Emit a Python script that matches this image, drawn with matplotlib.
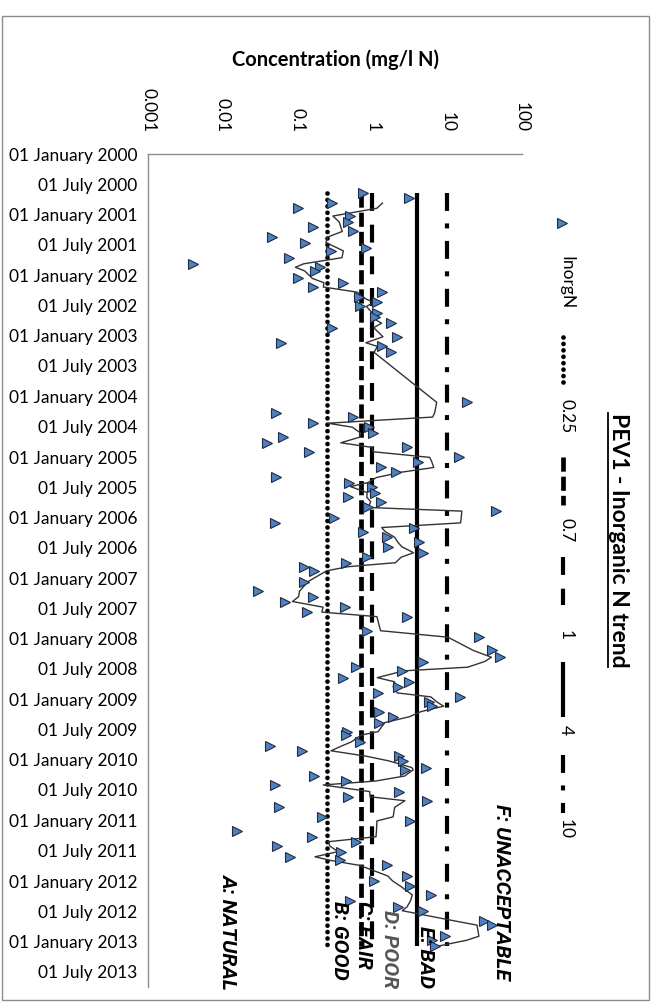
import matplotlib
matplotlib.use('Agg')
import matplotlib.pyplot as plt
import matplotlib.dates as mdates
from matplotlib.ticker import FixedLocator, FixedFormatter, NullLocator
from matplotlib.lines import Line2D
from matplotlib.patches import Rectangle
from matplotlib.transforms import IdentityTransform
import pandas as pd

plt.rcParams['font.family'] = ['Lato', 'DejaVu Sans']

# ---------------- data ----------------
sample_dates = [
    '2000-08-24', '2000-09-24', '2000-10-23', '2000-11-23', '2001-01-09', '2001-02-13',
    '2001-03-19', '2001-04-12', '2001-05-16', '2001-06-18', '2001-07-18', '2001-08-07',
    '2001-09-17', '2001-10-24', '2001-11-14', '2001-12-06', '2002-01-20', '2002-02-15',
    '2002-03-13', '2002-04-13', '2002-05-12', '2002-06-14', '2002-07-08', '2002-08-14',
    '2002-09-11', '2002-10-17', '2002-11-13', '2003-01-07', '2003-02-12', '2003-03-06',
    '2003-04-11', '2004-02-06', '2004-04-08', '2004-05-05', '2004-06-11', '2004-07-05',
    '2004-08-10', '2004-09-04', '2004-10-07', '2004-11-04', '2004-11-30', '2005-01-03',
    '2005-01-30', '2005-03-05', '2005-04-02', '2005-05-04', '2005-06-04', '2005-06-28',
    '2005-08-03', '2005-09-01', '2005-09-27', '2005-11-01', '2005-11-23', '2006-01-06',
    '2006-02-02', '2006-03-02', '2006-03-26', '2006-04-29', '2006-05-29', '2006-06-25',
    '2006-08-01', '2006-08-28', '2006-09-30', '2006-10-24', '2006-11-18', '2007-01-23',
    '2007-03-22', '2007-04-22', '2007-05-22', '2007-06-25', '2007-07-25', '2007-08-21',
    '2007-11-14', '2007-12-23', '2008-03-12', '2008-04-22', '2008-05-18', '2008-06-21',
    '2008-07-13', '2008-08-23', '2008-09-17', '2008-10-17', '2008-11-23', '2008-12-17',
    '2009-01-16', '2009-02-11', '2009-03-16', '2009-04-15', '2009-05-21', '2009-07-14',
    '2009-08-04', '2009-09-14', '2009-10-09', '2009-11-07', '2009-12-09', '2010-01-07',
    '2010-02-16', '2010-03-02', '2010-04-08', '2010-05-08', '2010-06-01', '2010-07-11',
    '2010-08-11', '2010-09-04', '2010-10-14', '2010-12-10', '2011-01-04', '2011-03-03',
    '2011-04-09', '2011-05-09', '2011-06-04', '2011-07-08', '2011-08-08', '2011-08-30',
    '2011-09-29', '2011-12-02', '2011-12-30', '2012-02-01', '2012-03-25', '2012-04-29',
    '2012-06-04', '2012-06-28', '2012-08-29', '2012-09-23', '2012-11-29', '2012-12-23',
    '2013-01-28',
]
inorg_n = [
    0.74, 3.06, 0.286, 0.102, 0.50, 0.477,
    0.162, 0.546, 0.0451, 0.126, 0.82, 0.280,
    0.0774, 0.00397, 0.199, 0.171, 0.102, 0.401,
    0.159, 1.33, 0.668, 1.14, 0.683, 1.14,
    1.08, 1.76, 0.286, 2.11, 0.0594, 1.33,
    1.77, 18.6, 0.0514, 0.546, 0.162, 0.910,
    1.03, 0.0644, 0.0386, 2.88, 0.143, 14.5,
    4.03, 1.30, 2.07, 0.0514, 0.491, 0.979,
    1.08, 0.468, 1.30, 0.865, 44.9, 0.307,
    0.0499, 3.63, 0.756, 1.55, 4.24, 1.60,
    4.80, 0.855, 0.444, 0.122, 0.166, 0.122,
    0.0293, 0.159, 0.0679, 0.430, 0.135, 2.88,
    0.839, 26.9, 39.3, 50.8, 4.80, 0.604,
    2.47, 0.408, 3.09, 2.18, 1.18, 14.8,
    5.77, 6.32, 1.24, 1.90, 1.24, 0.453,
    0.437, 0.683, 0.0428, 0.113, 2.29, 2.59,
    5.21, 2.73, 0.166, 0.444, 0.0499, 2.27,
    0.468, 5.42, 0.0569, 0.210, 3.18, 0.0156,
    0.154, 0.604, 0.0526, 0.380, 0.0791, 0.369,
    1.59, 2.88, 1.06, 3.18, 6.02, 0.50,
    2.22, 4.80, 31.0, 39.3, 9.35, 6.21,
    6.9,
]
series_label = 'InorgN'
threshold_values = [0.25, 0.7, 1, 4, 10]
threshold_labels = ['0.25', '0.7', '1', '4', '10']
class_labels = ['A: NATURAL', 'B: GOOD', 'C: FAIR', 'D: POOR', 'E: BAD', 'F: UNACCEPTABLE']
conc_ticks = [0.001, 0.01, 0.1, 1, 10, 100]
conc_tick_labels = ['0.001', '0.01', '0.1', '1', '10', '100']
date_axis_start = '2000-01-01'
date_axis_end = '2013-10-01'
title_text = 'PEV1 - Inorganic N trend'
axis_title = 'Concentration (mg/l N)'
moving_avg_period = 3   # Excel "3 per. Mov. Avg." trendline

# ---------------- styles ----------------
thr_styles = [
    dict(lw=3.4, ls=(0, (0.01, 1.35)), dash_capstyle='round'),
    dict(lw=3.4, ls=(0, (3.0, 1.06)), dash_capstyle='butt'),
    dict(lw=3.0, ls=(0, (4.3, 3.3)), dash_capstyle='butt'),
    dict(lw=3.0, ls='-', solid_capstyle='butt'),
    dict(lw=3.0, ls=(0, (4.3, 3.0, 1.2, 3.0)), dash_capstyle='butt'),
]
marker_kw = dict(marker='>', ms=7.6, mfc='#4F81BD', mec='#1F2A44', mew=0.8, ls='none')
font_main = 12.5

W, H = 652, 1002
def fx(px):
    return px / W
def fy(py):
    return 1 - py / H

fig = plt.figure(figsize=(W / 100, H / 100), dpi=100)
fig.patch.set_facecolor('white')

ax = fig.add_axes([fx(148), fy(987), 374 / W, (987 - 154) / H])
dates = pd.to_datetime(sample_dates)
dnum = mdates.date2num(dates.to_pydatetime())
vals = pd.Series(inorg_n)
trend = vals.rolling(moving_avg_period).mean()

ax.set_xscale('log')
ax.set_xlim(conc_ticks[0], conc_ticks[-1])
ax.set_ylim(mdates.date2num(pd.Timestamp(date_axis_end)), mdates.date2num(pd.Timestamp(date_axis_start)))

for v, st in zip(threshold_values, thr_styles):
    ax.plot([v, v], [dnum[0], dnum[-1]], color='black', zorder=2, **st)

ax.plot(trend.values, dnum, color='#333333', lw=1.0, zorder=3)
ax.plot(vals.values, dnum, zorder=4, **marker_kw)

# axes styling
for s in ['right', 'bottom']:
    ax.spines[s].set_visible(False)
for s in ['left', 'top']:
    ax.spines[s].set_color('#8c8c8c')
    ax.spines[s].set_linewidth(1.0)

ax.xaxis.set_major_locator(FixedLocator(conc_ticks))
ax.xaxis.set_major_formatter(FixedFormatter(conc_tick_labels))
ax.xaxis.set_minor_locator(NullLocator())
ax.tick_params(axis='x', top=True, bottom=False, labeltop=True, labelbottom=False,
               length=0, pad=15.5, labelsize=font_main)
for lab in ax.get_xticklabels():
    lab.set_rotation(-90)
    lab.set_va('bottom')
    lab.set_ha('center')

ax.yaxis.set_major_locator(mdates.MonthLocator(bymonth=[1, 7]))
ax.yaxis.set_major_formatter(mdates.DateFormatter('%d %B %Y'))
ax.yaxis.set_minor_locator(NullLocator())
ax.tick_params(axis='y', length=0, pad=7.5, labelsize=font_main)

# ---------------- overlay (pixel coords) ----------------
ov = fig.add_axes([0, 0, 1, 1], zorder=5)
ov.set_xlim(0, W)
ov.set_ylim(H, 0)
ov.axis('off')
ov.patch.set_alpha(0)

# outer border
fig.add_artist(Rectangle((fx(1.5), fy(1000)), (648.5 - 1.5) / W, (1000 - 16) / H,
                         transform=fig.transFigure, fill=False, ec='#8c8c8c', lw=1.0))

fig.text(fx(335), fy(60), axis_title, ha='center', va='center', fontsize=14.5, fontweight='bold')

# title (rotated) with underline
t = ov.text(619, 540, title_text, rotation=-90, ha='center', va='center',
            fontsize=16.5, fontweight='bold')

# legend
lx = 563
ov.plot([lx - 1], [223], **marker_kw)
ov.text(lx + 3, 283, series_label, rotation=-90, ha='center', va='center', fontsize=12.5)
leg_spans = [(337, 387), (457, 505), (557, 605), (662, 717), (755, 813)]
leg_text_y = [416, 530, 635, 730, 829]
for (y0, y1), ty, lab, st in zip(leg_spans, leg_text_y, threshold_labels, thr_styles):
    ov.plot([lx, lx], [y0, y1], color='black', **st)
    ov.text(lx + 3, ty, lab, rotation=-90, ha='center', va='center', fontsize=12.5)

# class labels
cls_pos = [(229, 931), (340, 940), (363, 935), (390, 949), (426, 957), (502, 892)]
cls_col = ['black', 'black', 'black', '#555555', 'black', 'black']
for lab, (px, py), c in zip(class_labels, cls_pos, cls_col):
    ov.text(px, py, lab, rotation=-90, ha='center', va='center', fontsize=15,
            fontweight='bold', fontstyle='italic', color=c,
            family=['Roboto', 'DejaVu Sans'])

fig.canvas.draw()
bb = t.get_window_extent()
fig.add_artist(Line2D([bb.x0 - 1, bb.x0 - 1], [bb.y0, bb.y1], transform=IdentityTransform(),
                      color='black', lw=1.3))

fig.savefig('out.png', dpi=100, facecolor='white')
